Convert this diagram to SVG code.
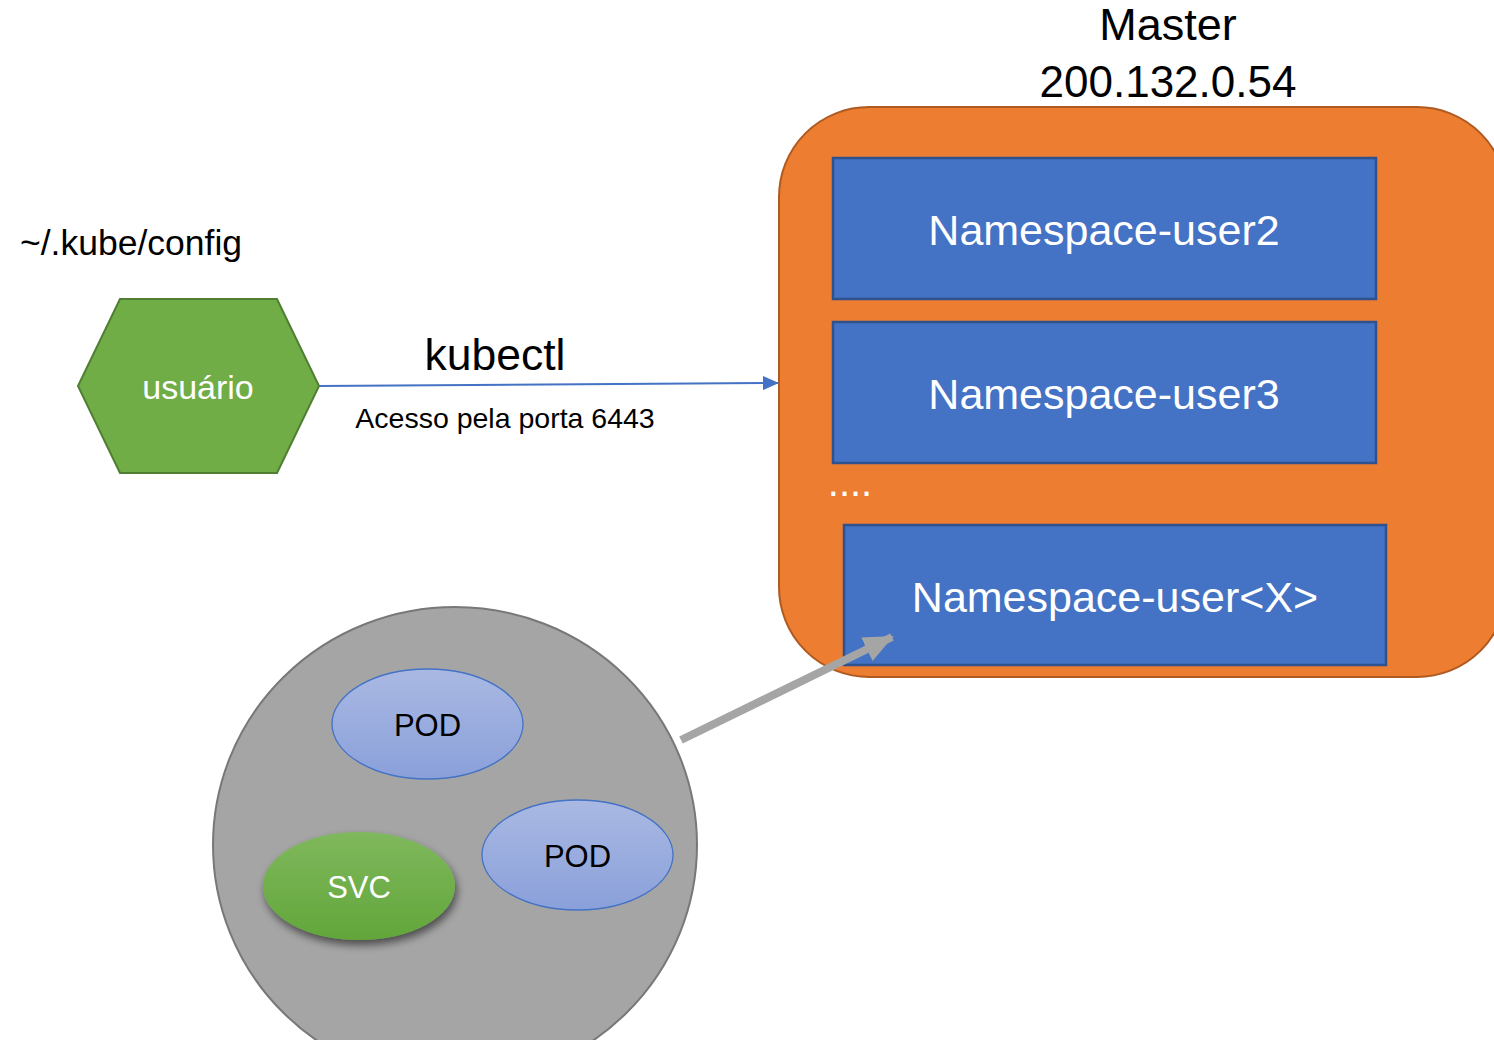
<svg xmlns="http://www.w3.org/2000/svg" width="1494" height="1040" viewBox="0 0 1494 1040">
<style>
text{font-family:"Liberation Sans","Noto Sans",Arial,sans-serif;text-anchor:middle}
.ns{fill:#4472C4;stroke:#2F528F;stroke-width:2.5}
.nst{fill:#fff;font-size:43px}
.pod{fill:url(#podg);stroke:#4472C4;stroke-width:1.3}
.podt{fill:#000;font-size:31px}
</style>
<defs>
<linearGradient id="podg" x1="0" y1="0" x2="0" y2="1">
<stop offset="0" stop-color="#AAB9E3"/><stop offset="1" stop-color="#8AA0DA"/>
</linearGradient>
<linearGradient id="svcg" x1="0" y1="0" x2="0" y2="1">
<stop offset="0" stop-color="#7FB85D"/><stop offset="1" stop-color="#62A63A"/>
</linearGradient>
<filter id="sh" x="-20%" y="-20%" width="140%" height="150%">
<feGaussianBlur in="SourceAlpha" stdDeviation="4"/>
<feOffset dx="2" dy="5" result="b"/>
<feComponentTransfer><feFuncA type="linear" slope="0.55"/></feComponentTransfer>
<feMerge><feMergeNode/><feMergeNode in="SourceGraphic"/></feMerge>
</filter>
<marker id="ab" markerWidth="16" markerHeight="14" refX="15" refY="7" orient="auto" markerUnits="userSpaceOnUse" viewBox="0 0 16 14">
<path d="M0,0 L16,7 L0,14 z" fill="#4472C4"/>
</marker>
<marker id="ag" markerWidth="30" markerHeight="30" refX="28" refY="15" orient="auto" markerUnits="userSpaceOnUse" viewBox="0 0 30 30">
<path d="M0,2 L30,15 L0,28 z" fill="#A5A5A5"/>
</marker>
</defs>
<rect width="1494" height="1040" fill="#fff"/>

<g id="master">
<text x="1168" y="40" font-size="45">Master</text>
<text x="1168" y="97" font-size="44">200.132.0.54</text>
<rect x="779" y="107" width="728" height="570" rx="90" ry="90" fill="#ED7D31" stroke="#AE5A21" stroke-width="2"/>
</g>

<g id="ns-user2">
<rect class="ns" x="833" y="158" width="543" height="141"/>
<text class="nst" x="1104" y="245">Namespace-user2</text>
</g>
<g id="ns-user3">
<rect class="ns" x="833" y="322" width="543" height="141"/>
<text class="nst" x="1104" y="409">Namespace-user3</text>
</g>
<g id="dots">
<text x="850" y="496" font-size="40" fill="#fff">....</text>
</g>
<g id="ns-userx">
<rect class="ns" x="844" y="525" width="542" height="140"/>
<text class="nst" x="1115" y="612">Namespace-user&lt;X&gt;</text>
</g>

<g id="config-label">
<text x="131" y="255" font-size="35.5">~/.kube/config</text>
</g>

<g id="usuario">
<polygon points="78,386 120,299 277,299 319,386 277,473 120,473" fill="#70AD47" stroke="#507E32" stroke-width="2"/>
<text x="198" y="399" font-size="34" fill="#fff">usuário</text>
</g>

<g id="namespace-group">
<ellipse cx="455" cy="845" rx="242" ry="238" fill="#A5A5A5" stroke="#787878" stroke-width="2"/>
</g>
<g id="pod1">
<ellipse class="pod" cx="427.5" cy="724" rx="95.5" ry="55"/>
<text class="podt" x="427.5" y="736">POD</text>
</g>
<g id="pod2">
<ellipse class="pod" cx="577.5" cy="855" rx="95.5" ry="55"/>
<text class="podt" x="577.5" y="867">POD</text>
</g>
<g id="svc">
<ellipse cx="359" cy="886" rx="96" ry="54" fill="url(#svcg)" filter="url(#sh)"/>
<text x="359" y="898" font-size="31" fill="#fff">SVC</text>
</g>

<g id="connectors">
<line x1="319" y1="386" x2="778" y2="383" stroke="#4472C4" stroke-width="2" marker-end="url(#ab)"/>
<text x="495" y="370" font-size="44.5" fill="#000">kubectl</text>
<text x="505" y="428" font-size="28.5" fill="#000">Acesso pela porta 6443</text>
<line x1="681" y1="740" x2="892" y2="637" stroke="#A5A5A5" stroke-width="8" marker-end="url(#ag)"/>
</g>
</svg>
